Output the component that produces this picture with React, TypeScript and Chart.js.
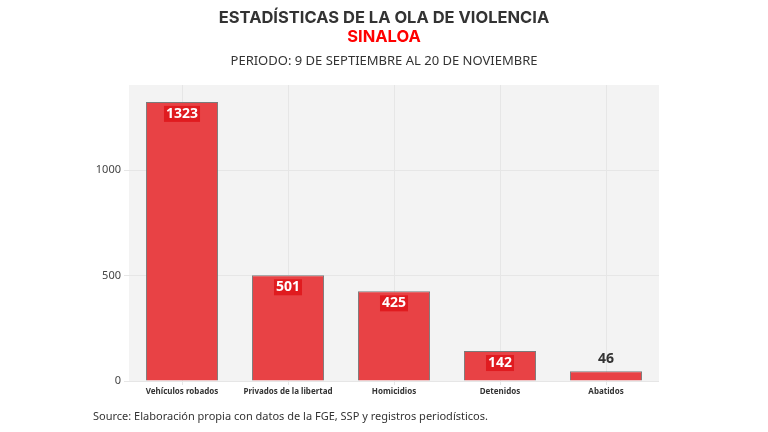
import React, { useEffect, useRef } from "react";
import { Chart, registerables } from "chart.js";

Chart.register(...registerables);

const categories = ["Vehículos robados", "Privados de la libertad", "Homicidios", "Detenidos", "Abatidos"];
const values = [1323, 501, 425, 142, 46];
const yTicks = [0, 500, 1000];

const titleLine1 = "ESTADÍSTICAS DE LA OLA DE VIOLENCIA";
const titleLine2 = "SINALOA";
const subtitle = "PERIODO: 9 DE SEPTIEMBRE AL 20 DE NOVIEMBRE";
const source = "Source: Elaboración propia con datos de la FGE, SSP y registros periodísticos.";

const bgPlugin = {
  id: "bgPlugin",
  beforeDraw(chart: any) {
    const { ctx, chartArea } = chart;
    ctx.save();
    ctx.fillStyle = "#f3f3f3";
    ctx.fillRect(chartArea.left, chartArea.top, chartArea.right - chartArea.left, chartArea.bottom - chartArea.top);
    ctx.restore();
  },
  afterDraw(chart: any) {
    const { ctx } = chart;
    ctx.save();
    ctx.textAlign = "center";
    ctx.textBaseline = "middle";
    ctx.fillStyle = "#333333";
    ctx.font = "bold 16.5px Inter";
    ctx.fillText(titleLine1, 384, 18);
    ctx.fillStyle = "#ff0000";
    ctx.fillText(titleLine2, 384, 37);
    ctx.fillStyle = "#333333";
    ctx.font = "13px 'Noto Sans'";
    ctx.fillText(subtitle, 384, 61);
    ctx.textAlign = "left";
    ctx.font = "11px 'Noto Sans'";
    ctx.fillText(source, 93, 417);

    // value labels
    const meta = chart.getDatasetMeta(0);
    meta.data.forEach((bar: any, i: number) => {
      const v = values[i];
      const text = String(v);
      const h = bar.base - bar.y;
      ctx.font = "bold 14px 'Noto Sans'";
      if (h > 20) {
        const w = ctx.measureText(text).width;
        const cy = bar.y + 12;
        ctx.fillStyle = "#e01b1f";
        ctx.fillRect(bar.x - w / 2 - 2, cy - 8, w + 4, 16);
        ctx.fillStyle = "#ffffff";
        ctx.fillText(text, bar.x - w / 2, cy);
      } else {
        ctx.textAlign = "center";
        ctx.fillStyle = "#333333";
        ctx.fillText(text, bar.x, bar.y - 12);
        ctx.textAlign = "left";
      }
    });
    ctx.restore();
  },
};

export default function App() {
  const ref = useRef<HTMLCanvasElement>(null);
  useEffect(() => {
    document.body.style.margin = "0";
    const chart = new Chart(ref.current!, {
      type: "bar",
      data: {
        labels: categories,
        datasets: [
          {
            data: values,
            backgroundColor: "#e84245",
            borderColor: "#7a7a7a",
            borderWidth: 1,
            categoryPercentage: 1,
            barPercentage: 0.68,
          },
        ],
      },
      options: {
        animation: false,
        responsive: false,
        layout: { padding: { top: 85, right: 109, bottom: 31, left: 0 } },
        plugins: { legend: { display: false }, tooltip: { enabled: false } },
        scales: {
          x: {
            grid: { color: "#e6e6e6", tickLength: 4, drawTicks: true, offset: false },
            border: { display: false },
            ticks: { color: "#333333", font: { family: "'Noto Sans'", size: 8, weight: "bold" }, padding: 2 },
            afterFit(axis: any) {
              axis.height = 20;
            },
          },
          y: {
            min: 0,
            max: 1403,
            afterBuildTicks(axis: any) {
              axis.ticks = yTicks.map((v) => ({ value: v }));
            },
            grid: { color: "#e6e6e6", tickLength: 5 },
            border: { display: false },
            ticks: {
              color: "#444444",
              font: { family: "'Noto Sans'", size: 11 },
              padding: 3,
              callback: (v: any) => String(v),
            },
            afterFit(axis: any) {
              axis.width = 129;
            },
          },
        },
      },
      plugins: [bgPlugin],
    });
    return () => chart.destroy();
  }, []);
  return <canvas ref={ref} width={768} height={432} style={{ display: "block" }} />;
}
